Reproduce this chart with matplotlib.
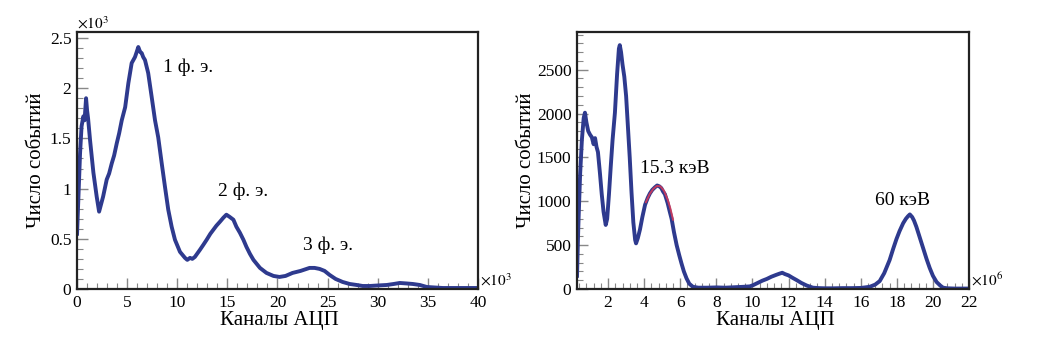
import matplotlib
matplotlib.use("Agg")
import matplotlib.pyplot as plt
from matplotlib.ticker import MultipleLocator, FormatStrFormatter

plt.rcParams["font.family"] = ["Liberation Serif", "DejaVu Serif"]
plt.rcParams["mathtext.fontset"] = "stix"

# left spectrum: channels (x10^3) and counts (x10^3)
spe_x = [0.0, 0.15, 0.3, 0.45, 0.63, 0.75, 0.9, 1.0, 1.1, 1.3, 1.63, 1.96, 2.2,
         2.6, 2.96, 3.2, 3.46, 3.7, 3.96, 4.2, 4.46, 4.8, 5.12, 5.45, 5.78,
         5.95, 6.11, 6.3, 6.45, 6.6, 6.78, 7.1, 7.45, 7.78, 8.1, 8.45, 8.77,
         9.1, 9.44, 9.77, 10.27, 10.77, 11.0, 11.27, 11.5, 11.76, 12.26, 12.6,
         12.93, 13.3, 13.6, 13.9, 14.26, 14.6, 14.9, 15.2, 15.6, 15.9, 16.25,
         16.6, 16.9, 17.25, 17.6, 18.25, 18.9, 19.6, 20.2, 20.8, 21.5, 22.3,
         23.2, 23.7, 24.2, 24.7, 25.2, 25.8, 26.5, 27.2, 27.9, 28.5, 29.2,
         30.0, 30.9, 31.6, 32.2, 32.9, 33.5, 34.2, 34.9, 35.7, 36.5, 37.5,
         38.5, 39.5, 40.0]
spe_y = [0.55, 0.95, 1.35, 1.62, 1.72, 1.68, 1.90, 1.78, 1.70, 1.48, 1.16, 0.92, 0.77,
         0.92, 1.09, 1.15, 1.25, 1.33, 1.45, 1.55, 1.68, 1.81, 2.05, 2.25, 2.31,
         2.36, 2.41, 2.36, 2.35, 2.31, 2.28, 2.15, 1.91, 1.68, 1.51, 1.25, 1.02,
         0.79, 0.62, 0.49, 0.37, 0.31, 0.29, 0.31, 0.30, 0.32, 0.39, 0.44,
         0.49, 0.55, 0.59, 0.63, 0.67, 0.71, 0.74, 0.72, 0.69, 0.62, 0.56,
         0.49, 0.42, 0.35, 0.29, 0.21, 0.16, 0.13, 0.12, 0.13, 0.16, 0.18,
         0.21, 0.21, 0.20, 0.18, 0.14, 0.10, 0.07, 0.05, 0.04, 0.03, 0.03,
         0.035, 0.04, 0.05, 0.06, 0.055, 0.05, 0.04, 0.02, 0.015, 0.01, 0.01,
         0.01, 0.01, 0.01]

# right spectrum: channels (x10^6) and counts
am_x = [0.28, 0.35, 0.45, 0.55, 0.65, 0.72, 0.8, 0.9, 1.0, 1.1, 1.2, 1.28, 1.36,
        1.44, 1.55, 1.65, 1.75, 1.87, 1.95, 2.05, 2.15, 2.25, 2.38, 2.5, 2.6,
        2.65, 2.72, 2.8, 2.9, 3.0, 3.1, 3.2, 3.3, 3.4, 3.5, 3.55, 3.65, 3.77,
        3.9, 4.05, 4.2, 4.32, 4.45, 4.6, 4.72, 4.84, 4.95, 5.05, 5.15, 5.3,
        5.42, 5.52, 5.65, 5.8, 5.95, 6.07, 6.2, 6.35, 6.5, 6.7, 7.0, 7.5, 8.0,
        8.5, 9.0, 9.5, 9.86, 10.05, 10.3, 10.55, 10.8, 11.05, 11.3, 11.5,
        11.65, 11.8, 12.0, 12.2, 12.46, 12.7, 13.0, 13.35, 13.7, 14.0, 14.5,
        15.0, 15.5, 16.0, 16.5, 16.8, 17.05, 17.3, 17.6, 17.8, 17.98, 18.15,
        18.35, 18.5, 18.62, 18.72, 18.85, 18.95, 19.08, 19.25, 19.45, 19.65,
        19.82, 20.0, 20.2, 20.4, 20.56, 20.8, 21.2, 21.6, 22.0]
am_y = [150, 700, 1300, 1700, 1950, 2010, 1900, 1800, 1760, 1730, 1650, 1720, 1620,
        1560, 1320, 1080, 880, 730, 800, 1080, 1400, 1700, 2010, 2450, 2740,
        2780, 2700, 2560, 2420, 2200, 1850, 1500, 1100, 760, 560, 520, 580, 680,
        820, 960, 1040, 1090, 1130, 1160, 1180, 1170, 1150, 1110, 1080, 980,
        880, 800, 650, 500, 380, 290, 200, 120, 60, 25, 15, 15, 18,
        15, 20, 25, 30, 45, 70, 95, 115, 140, 160, 175,
        185, 170, 155, 130, 100, 70, 40, 15, 10, 8, 8,
        10, 10, 12, 25, 50, 90, 180, 330, 460, 570, 660,
        750, 800, 830, 850, 820, 780, 710, 600, 470, 340,
        240, 150, 80, 40, 15, 8, 5, 5, 5]

# gaussian fit of the 15.3 keV line
fit_x = [4.1, 4.3, 4.5, 4.7, 4.9, 5.1, 5.3, 5.45, 5.6]
fit_y = [990, 1080, 1140, 1175, 1170, 1120, 1020, 920, 790]

blue = "#2E3A8E"
red = "#D03A5A"

fig = plt.figure(figsize=(10.44, 3.59), dpi=100)
ax1 = fig.add_axes([0.0738, 0.195, 0.384, 0.716])
ax2 = fig.add_axes([0.5527, 0.195, 0.3755, 0.716])

# left panel
ax1.plot(spe_x, spe_y, color=blue, lw=2.8, solid_joinstyle="round")
ax1.set_xlim(0, 40)
ax1.set_ylim(0, 2.56)
ax1.xaxis.set_major_locator(MultipleLocator(5))
ax1.xaxis.set_minor_locator(MultipleLocator(1))
ax1.yaxis.set_major_locator(MultipleLocator(0.5))
ax1.yaxis.set_minor_locator(MultipleLocator(0.1))
ax1.yaxis.set_major_formatter(FormatStrFormatter("%g"))
ax1.set_xlabel("Каналы АЦП", fontsize=15)
ax1.set_ylabel("Число событий", fontsize=15)
ax1.xaxis.set_label_coords(0.505, -0.086)
ax1.yaxis.set_label_coords(-0.078, 0.5)
ax1.text(8.6, 2.21, "1 ф. э.", fontsize=14, va="center")
ax1.text(14.1, 0.97, "2 ф. э.", fontsize=14, va="center")
ax1.text(22.5, 0.44, "3 ф. э.", fontsize=14, va="center")
ax1.text(0.0, 1.0, r"$\times10^3$", transform=ax1.transAxes, fontsize=11,
         va="bottom", ha="left")
ax1.text(1.005, 0.0, r"$\times10^3$", transform=ax1.transAxes, fontsize=11,
         va="bottom", ha="left")

# right panel
ax2.plot(am_x, am_y, color=blue, lw=2.8, solid_joinstyle="round")
ax2.plot(fit_x, fit_y, color=red, lw=1.4, alpha=0.9)
ax2.set_xlim(0.28, 22)
ax2.set_ylim(0, 2930)
ax2.xaxis.set_major_locator(MultipleLocator(2))
ax2.xaxis.set_minor_locator(MultipleLocator(0.4))
ax2.yaxis.set_major_locator(MultipleLocator(500))
ax2.yaxis.set_minor_locator(MultipleLocator(100))
ax2.set_xlabel("Каналы АЦП", fontsize=15)
ax2.set_ylabel("Число событий", fontsize=15)
ax2.xaxis.set_label_coords(0.505, -0.086)
ax2.yaxis.set_label_coords(-0.105, 0.5)
ax2.text(3.77, 1375, "15.3 кэВ", fontsize=14, va="center")
ax2.text(16.8, 1010, "60 кэВ", fontsize=14, va="center")
ax2.text(1.005, 0.0, r"$\times10^6$", transform=ax2.transAxes, fontsize=11,
         va="bottom", ha="left")

for ax in (ax1, ax2):
    for sp in ax.spines.values():
        sp.set_linewidth(1.6)
        sp.set_color("#222222")
    ax.tick_params(which="both", direction="in", top=False, right=False,
                   color="#888888", labelsize=12.5)
    ax.tick_params(which="major", length=8, width=1.0, pad=4)
    ax.tick_params(which="minor", length=4, width=0.8)

fig.savefig("out.png", dpi=100)
